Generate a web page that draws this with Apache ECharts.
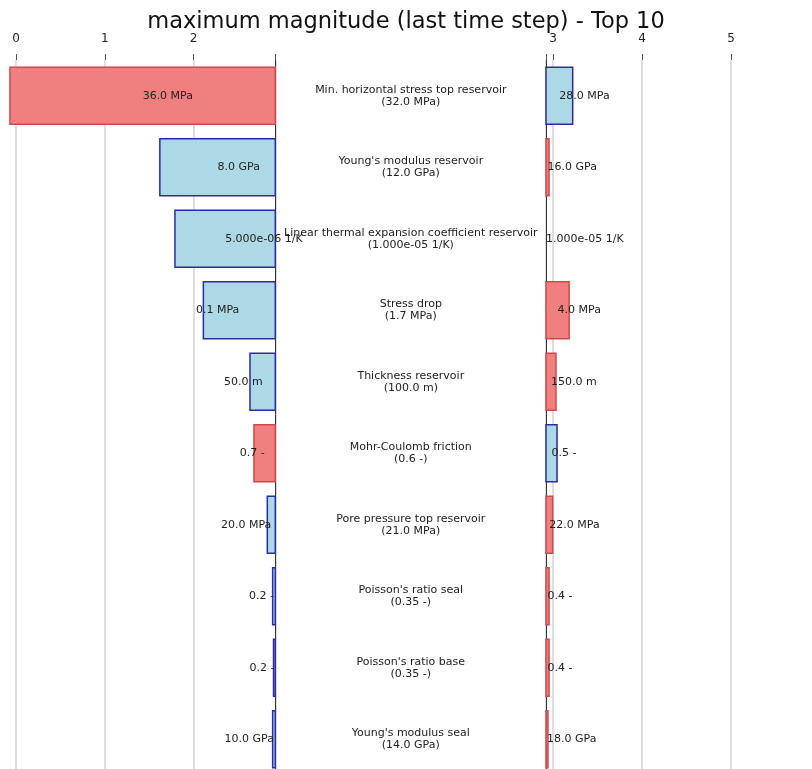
<!DOCTYPE html>
<html>
<head>
<meta charset="utf-8">
<script src="https://cdn.jsdelivr.net/npm/echarts@6/dist/echarts.min.js"></script>
<style>
html,body{margin:0;padding:0;background:#fff;}
#chart{width:812px;height:769px;}
</style>
</head>
<body>
<div id="chart"></div>
<script>
// ---- data ----
const title = "maximum magnitude (last time step) - Top 10";
const categories = [
  "Min. horizontal stress top reservoir",
  "Young's modulus reservoir",
  "Linear thermal expansion coefficient reservoir",
  "Stress drop",
  "Thickness reservoir",
  "Mohr-Coulomb friction",
  "Pore pressure top reservoir",
  "Poisson's ratio seal",
  "Poisson's ratio base",
  "Young's modulus seal"
];
const baseParamLabels = ["32.0 MPa", "12.0 GPa", "1.000e-05 1/K", "1.7 MPa", "100.0 m", "0.6 -", "21.0 MPa", "0.35 -", "0.35 -", "14.0 GPa"];
const leftParamLabels = ["36.0 MPa", "8.0 GPa", "5.000e-06 1/K", "0.1 MPa", "50.0 m", "0.7 -", "20.0 MPa", "0.2 -", "0.2 -", "10.0 GPa"];
const rightParamLabels = ["28.0 MPa", "16.0 GPa", "1.000e-05 1/K", "4.0 MPa", "150.0 m", "0.5 -", "22.0 MPa", "0.4 -", "0.4 -", "18.0 GPa"];
const baseMagnitude = 2.92;
const leftMagnitudes = [-0.068, 1.62, 1.79, 2.11, 2.635, 2.68, 2.83, 2.89, 2.90, 2.89];
const rightMagnitudes = [3.22, 2.954, 2.92, 3.18, 3.032, 3.044, 2.995, 2.954, 2.954, 2.942];
const xTicks = [0, 1, 2, 3, 4, 5];

// ---- style ----
const RED_FILL = '#f08080', RED_EDGE = '#d04848';
const BLUE_FILL = '#add8e6', BLUE_EDGE = '#2b2ba6';
const FONT = '"DejaVu Sans", sans-serif';
const TXT = '#222';

function isHigher(paramLabel, i) {
  return parseFloat(paramLabel) > parseFloat(baseParamLabels[i]);
}

function makeRender(labels, side) {
  return function (params, api) {
    const i = api.value(1);
    const v = api.value(0);
    const pv = api.coord([v, i]);
    const pb = api.coord([baseMagnitude, i]);
    const h = api.size([0, 1])[1] * 0.8;
    const x0 = Math.min(pv[0], pb[0]);
    const w = Math.abs(pv[0] - pb[0]);
    const hi = isHigher(labels[i], i);
    const children = [];
    if (labels[i] !== baseParamLabels[i]) {
      children.push({
        type: 'rect',
        shape: { x: x0, y: pb[1] - h / 2, width: w, height: h },
        style: { fill: hi ? RED_FILL : BLUE_FILL, stroke: hi ? RED_EDGE : BLUE_EDGE, lineWidth: 1.5 }
      });
    }
    const width = Math.abs(v - baseMagnitude);
    const mid = x0 + w / 2;
    let align;
    if (side === 'left') align = width > 1 ? 'left' : 'right';
    else align = width > 1 ? 'right' : 'left';
    children.push({
      type: 'text',
      x: mid, y: pb[1],
      z2: 10,
      style: { text: labels[i], fill: TXT, font: '11px ' + FONT, align: align, verticalAlign: 'middle' }
    });
    return { type: 'group', children: children };
  };
}

const chart = echarts.init(document.getElementById('chart'), null, { renderer: 'canvas' });

const gridTop = 60, gridHeight = 715;
const axisCommon = {
  type: 'value',
  position: 'top',
  minInterval: 1,
  maxInterval: 1,
  axisLine: { show: false },
  axisTick: { show: true, length: 6, lineStyle: { color: '#555', width: 1 } },
  axisLabel: {
    margin: 15, color: TXT, fontFamily: FONT, fontSize: 12,
    formatter: v => (xTicks.indexOf(v) >= 0 ? String(v) : '')
  },
  splitLine: { show: true, lineStyle: { color: '#d3d3d3', width: 1.5 } }
};

const option = {
  animation: false,
  backgroundColor: '#fff',
  title: {
    text: title, left: 'center', top: 6,
    textStyle: { fontFamily: FONT, fontSize: 22.5, fontWeight: 'normal', color: '#111' }
  },
  grid: [
    { left: 16, top: gridTop, width: 259.3, height: gridHeight, containLabel: false, outerBoundsMode: 'none' },
    { left: 546, top: gridTop, width: 300, height: gridHeight, containLabel: false, outerBoundsMode: 'none' }
  ],
  xAxis: [
    Object.assign({}, axisCommon, { gridIndex: 0, min: 0, max: baseMagnitude }),
    Object.assign({}, axisCommon, { gridIndex: 1, min: baseMagnitude, max: baseMagnitude + 300 / 89 })
  ],
  yAxis: [
    {
      type: 'category', gridIndex: 0, data: categories, inverse: true, position: 'right',
      axisLine: { show: true, onZero: false, lineStyle: { color: '#333', width: 1 } },
      axisTick: { show: false },
      splitLine: { show: false },
      axisLabel: {
        show: true, margin: 135.5, align: 'center', color: TXT, fontFamily: FONT, fontSize: 11, lineHeight: 12,
        formatter: (val, idx) => val + '\n(' + baseParamLabels[idx] + ')'
      }
    },
    {
      type: 'category', gridIndex: 1, data: categories, inverse: true, position: 'left',
      axisLine: { show: true, onZero: false, lineStyle: { color: '#333', width: 1 } },
      axisTick: { show: false },
      splitLine: { show: false },
      axisLabel: { show: false }
    }
  ],
  series: [
    {
      type: 'custom', xAxisIndex: 0, yAxisIndex: 0, clip: false,
      encode: { x: 0, y: 1 },
      data: leftMagnitudes.map((v, i) => [v, i]),
      renderItem: makeRender(leftParamLabels, 'left'),
      z: 3
    },
    {
      type: 'custom', xAxisIndex: 1, yAxisIndex: 1, clip: false,
      encode: { x: 0, y: 1 },
      data: rightMagnitudes.map((v, i) => [v, i]),
      renderItem: makeRender(rightParamLabels, 'right'),
      z: 3
    }
  ]
};
chart.setOption(option);
</script>
</body>
</html>
